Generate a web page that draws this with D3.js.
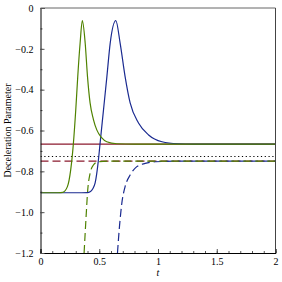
<!DOCTYPE html>
<html>
<head>
<meta charset="utf-8">
<script src="https://cdn.jsdelivr.net/npm/d3@7"></script>
<style>
  body { margin: 0; background: #fff; }
  svg text { font-family: "Liberation Serif", "Times New Roman", serif; }
</style>
</head>
<body>
<svg width="282" height="282"></svg>
<script>
// values
var xTicks = [0, 0.5, 1, 1.5, 2];
var yTicks = [0, -0.2, -0.4, -0.6, -0.8, -1.0, -1.2];

var greenSolidT = [0, 0.15, 0.19, 0.229, 0.257, 0.28, 0.30, 0.317, 0.337, 0.356, 0.38, 0.40, 0.422, 0.45, 0.479, 0.52, 0.564, 0.65, 0.8, 2];
var greenSolidQ = [-0.905, -0.905, -0.903, -0.875, -0.793, -0.663, -0.5, -0.336, -0.173, -0.062, -0.17, -0.336, -0.465, -0.545, -0.597, -0.635, -0.655, -0.665, -0.667, -0.667];

var blueSolidT = [0, 0.3, 0.40, 0.422, 0.445, 0.465, 0.493, 0.507, 0.536, 0.565, 0.593, 0.641, 0.678, 0.72, 0.763, 0.834, 0.92, 1.034, 1.17, 1.3, 2];
var blueSolidQ = [-0.905, -0.905, -0.904, -0.9, -0.885, -0.857, -0.744, -0.663, -0.5, -0.336, -0.173, -0.062, -0.173, -0.336, -0.465, -0.563, -0.622, -0.655, -0.665, -0.667, -0.667];

var greenDashT = [0.371, 0.388, 0.402, 0.422, 0.45, 0.493, 0.6, 2];
var greenDashQ = [-1.2, -1.022, -0.891, -0.81, -0.769, -0.753, -0.75, -0.75];

var blueDashT = [0.655, 0.672, 0.692, 0.72, 0.763, 0.82, 0.891, 0.977, 1.2, 2];
var blueDashQ = [-1.2, -1.071, -0.957, -0.875, -0.818, -0.777, -0.761, -0.753, -0.75, -0.75];

var redSolidQ = -0.667;
var redDashQ = -0.75;
var dottedQ = -0.727;

var svg = d3.select("svg");
var pLeft = 40.5, pRight = 275.5, pTop = 8, pBottom = 253;

var x = d3.scaleLinear().domain([0, 2]).range([pLeft, pRight]);
var y = d3.scaleLinear().domain([-1.2, 0]).range([pBottom, pTop]);

svg.append("clipPath").attr("id", "clip")
  .append("rect").attr("x", pLeft).attr("y", pTop).attr("width", pRight - pLeft).attr("height", pBottom - pTop);

var line = d3.line()
  .x(function(d){ return x(d[0]); })
  .y(function(d){ return y(d[1]); })
  .curve(d3.curveMonotoneX);

function pairs(ts, qs){
  return ts.map(function(t, i){ return [t, qs[i]]; });
}

var lines = svg.append("g").attr("clip-path", "url(#clip)");

// horizontal reference lines
lines.append("path").attr("d", line([[0, redSolidQ], [2, redSolidQ]]))
  .attr("fill", "none").attr("stroke", "#8b1a2e").attr("stroke-width", 1.2);
lines.append("path").attr("d", line([[0, dottedQ], [2, dottedQ]]))
  .attr("fill", "none").attr("stroke", "#000").attr("stroke-width", 1.1).attr("stroke-dasharray", "1.2,2.6");
lines.append("path").attr("d", line([[0, redDashQ], [2, redDashQ]]))
  .attr("fill", "none").attr("stroke", "#8b1a2e").attr("stroke-width", 1.2).attr("stroke-dasharray", "8,4");

lines.append("path").attr("d", line(pairs(blueDashT, blueDashQ)))
  .attr("fill", "none").attr("stroke", "#1a2a90").attr("stroke-width", 1.2).attr("stroke-dasharray", "8,4");
lines.append("path").attr("d", line(pairs(greenDashT, greenDashQ)))
  .attr("fill", "none").attr("stroke", "#4f8200").attr("stroke-width", 1.2).attr("stroke-dasharray", "8,4");
lines.append("path").attr("d", line(pairs(blueSolidT, blueSolidQ)))
  .attr("fill", "none").attr("stroke", "#1a2a90").attr("stroke-width", 1.2);
lines.append("path").attr("d", line(pairs(greenSolidT, greenSolidQ)))
  .attr("fill", "none").attr("stroke", "#4f8200").attr("stroke-width", 1.2);

// frame
svg.append("line").attr("x1", pLeft).attr("x2", pRight).attr("y1", pTop).attr("y2", pTop).attr("stroke", "#666");
svg.append("line").attr("x1", pRight).attr("x2", pRight).attr("y1", pTop).attr("y2", pBottom).attr("stroke", "#444");

// axes, ticks pointing inward
svg.append("g").attr("transform", "translate(0," + pBottom + ")")
  .call(d3.axisBottom(x).tickValues(d3.range(0, 2.01, 0.1)).tickSize(-2).tickFormat(""))
  .call(function(g){ g.select(".domain").remove(); });
svg.append("g").attr("transform", "translate(0," + pBottom + ")")
  .call(d3.axisBottom(x).tickValues(xTicks).tickSize(-4).tickPadding(5).tickFormat(d3.format("")))
  .call(function(g){ g.select(".domain").attr("stroke", "#000"); });

svg.append("g").attr("transform", "translate(" + pLeft + ",0)")
  .call(d3.axisLeft(y).tickValues(d3.range(-1.2, 0.01, 0.1)).tickSize(-2).tickFormat(""))
  .call(function(g){ g.select(".domain").remove(); });
svg.append("g").attr("transform", "translate(" + pLeft + ",0)")
  .call(d3.axisLeft(y).tickValues(yTicks).tickSize(-4).tickPadding(7)
    .tickFormat(function(d){ return d === 0 ? "0" : d3.format(".1f")(d); }))
  .call(function(g){ g.select(".domain").attr("stroke", "#000"); });

svg.selectAll(".tick text").attr("font-size", 10).attr("font-family", "Liberation Serif").attr("fill", "#000");
svg.selectAll(".tick line").attr("stroke", "#555");

svg.append("text").attr("x", x(1)).attr("y", 276).attr("text-anchor", "middle")
  .attr("font-size", 10).attr("font-style", "italic").text("t");
svg.append("text").attr("transform", "translate(11," + y(-0.6) + ") rotate(-90)")
  .attr("text-anchor", "middle").attr("font-size", 10).text("Deceleration Parameter");
</script>
</body>
</html>
